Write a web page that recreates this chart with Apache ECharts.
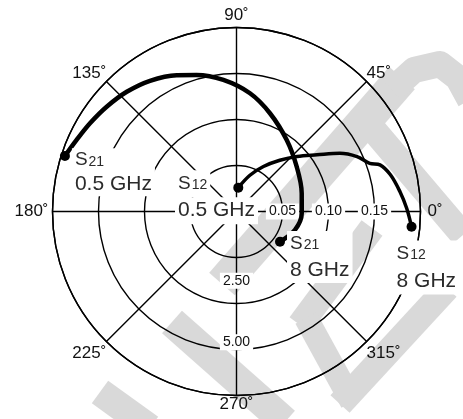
<!DOCTYPE html>
<html><head><meta charset="utf-8">
<script src="https://cdn.jsdelivr.net/npm/echarts@6/dist/echarts.min.js"></script>
<style>html,body{margin:0;padding:0;background:#fff}#c{width:463px;height:419px}</style>
</head><body><div id="c"></div>
<script>
// Angle axis ticks (degrees) and radial scale ticks
const angleTicks = [0, 45, 90, 135, 180, 225, 270, 315];
const s12Scale = { min: 0, max: 0.20, interval: 0.05 };
const s21Scale = { min: 0, max: 7.5, interval: 2.5 };

// S12 trace (magnitude, angle in degrees), 0.5 GHz -> 8 GHz
const s12Mag = [0.026, 0.042, 0.057, 0.073, 0.089, 0.107, 0.129, 0.144, 0.154, 0.164, 0.172, 0.179, 0.185, 0.191];
const s12Ang = [85.7, 69.7, 59.1, 49.8, 42.3, 35.2, 29.4, 24.5, 19.9, 18.0, 13.4, 6.9, 1.1, -5.0];

// S21 trace (magnitude, angle in degrees), 0.5 GHz -> 8 GHz
const s21Mag = [7.35, 7.14, 6.97, 6.80, 6.62, 6.39, 6.07, 5.80, 5.39, 4.85, 4.23, 3.56, 3.06, 2.76, 2.66, 2.50, 2.16];
const s21Ang = [162.1, 155.9, 148.95, 141.1, 132.5, 123.5, 113.7, 106.3, 95.7, 83.5, 71.2, 54.9, 36.7, 15.6, -1.6, -17.5, -34.8];

// Point annotations: [name, subscript, frequency]
const s12StartText = ['S', '12', '0.5 GHz'];
const s12EndText = ['S', '12', '8 GHz'];
const s21StartText = ['S', '21', '0.5 GHz'];
const s21EndText = ['S', '21', '8 GHz'];

const FONT = 'Liberation Sans, Arial, Helvetica, sans-serif';
const TXT = '#2b2b2b';

function richFor(lh) {
  return {
    s: { fontSize: 19, lineHeight: lh, color: TXT, fontFamily: FONT },
    n: { fontSize: 14, lineHeight: lh, color: TXT, fontFamily: FONT, padding: [3, 0, 0, 1] },
    t: { fontSize: 21, lineHeight: lh, color: TXT, fontFamily: FONT }
  };
}
function makeLabel(fmt, lh, offset) {
  return {
    show: true,
    position: 'right',
    distance: 5,
    offset: offset,
    align: 'left',
    verticalAlign: 'middle',
    backgroundColor: '#fff',
    padding: [0, 3, 0, 3],
    formatter: fmt,
    rich: richFor(lh)
  };
}
const two = p => '{s|' + p[0] + '}{n|' + p[1] + '}\n{t|' + p[2] + '}';
const nameOnly = p => '{s|' + p[0] + '}{n|' + p[1] + '}';
const freqOnly = p => '{t|' + p[2] + '}';

function buildData(mag, ang, startLabel, endLabel) {
  const last = mag.length - 1;
  return mag.map((m, i) => {
    const item = { value: [m, ang[i]], symbolSize: (i === 0 || i === last) ? 10 : 0 };
    if (i === 0) item.label = startLabel;
    else if (i === last) item.label = endLabel;
    else item.label = { show: false };
    return item;
  });
}

// Per-angle label padding (distance from the outer circle)
const anglePad = { 0: [0, 0, 0, 7], 90: [0, 0, 4, 0], 180: [0, 4, 0, 0], 225: [3, 0, 0, 0], 315: [3, 0, 0, 0] };
const angleRich = {};
angleTicks.forEach(a => {
  angleRich['a' + a] = { fontSize: 17, color: '#111', fontFamily: FONT, padding: anglePad[a] || [0, 0, 0, 0] };
});

const chart = echarts.init(document.getElementById('c'), null, { renderer: 'canvas' });
const gridLine = { color: '#000', width: 1.4 };
const wm = '#d9d9d9';
function band(points, w) {
  return { type: 'polyline', z: -10, silent: true, shape: { points: points }, style: { stroke: wm, lineWidth: w, fill: null, lineCap: 'butt', lineJoin: 'round' } };
}

chart.setOption({
  animation: false,
  backgroundColor: '#fff',
  textStyle: { fontFamily: FONT },
  graphic: [
    band([[222, 284], [402, 78]], 34),
    band([[392, 90], [414, 70], [440, 64], [458, 78], [470, 100]], 26),
    band([[372, 128], [463, 235]], 26),
    band([[300, 325], [372, 228]], 26),
    band([[306, 318], [352, 402]], 24),
    band([[340, 404], [447, 288]], 26),
    band([[172, 322], [285, 422]], 30),
    band([[100, 392], [150, 428]], 28)
  ],
  polar: [
    { center: [236.5, 211.5], radius: 184 },
    { center: [236.5, 211.5], radius: 184 }
  ],
  angleAxis: [
    {
      polarIndex: 0, type: 'value', min: 0, max: 360, interval: 45, startAngle: 0, clockwise: false, z: 0,
      axisLine: { show: true, lineStyle: gridLine },
      axisTick: { show: false },
      splitLine: { show: true, lineStyle: gridLine },
      axisLabel: {
        show: true, margin: 0, fontSize: 17, color: '#111', fontFamily: FONT,
        customValues: angleTicks,
        formatter: v => '{a' + v + '|' + v + '\u02DA}',
        rich: angleRich
      }
    },
    {
      polarIndex: 1, type: 'value', min: -90, max: 270, startAngle: 270, clockwise: false, z: 0,
      axisLine: { show: false }, axisTick: { show: false }, splitLine: { show: false }, axisLabel: { show: false }
    }
  ],
  radiusAxis: [
    {
      polarIndex: 0, type: 'value', min: s12Scale.min, max: s12Scale.max, interval: s12Scale.interval, z: 1,
      axisLine: { show: false }, axisTick: { show: false },
      splitLine: { show: true, lineStyle: gridLine },
      axisLabel: {
        show: true, margin: 0, align: 'center', verticalAlign: 'middle', fontSize: 14, color: '#111', fontFamily: FONT,
        backgroundColor: '#fff', padding: [1, 3],
        showMinLabel: false, showMaxLabel: false,
        formatter: v => v.toFixed(2)
      }
    },
    {
      polarIndex: 1, type: 'value', min: s21Scale.min, max: s21Scale.max, interval: s21Scale.interval, z: 1,
      axisLine: { show: false }, axisTick: { show: false }, splitLine: { show: false },
      axisLabel: {
        show: true, margin: 0, align: 'center', verticalAlign: 'top', fontSize: 14, color: '#111', fontFamily: FONT,
        backgroundColor: '#fff', padding: [1, 3],
        showMinLabel: false, showMaxLabel: false,
        formatter: v => v.toFixed(2)
      }
    }
  ],
  series: [
    {
      name: 'S12', type: 'line', coordinateSystem: 'polar', polarIndex: 0, z: 3,
      smooth: 0.35, symbol: 'circle', showAllSymbol: true, clip: false,
      lineStyle: { color: '#000', width: 3.5 }, itemStyle: { color: '#000' },
      data: buildData(s12Mag, s12Ang,
        makeLabel(nameOnly(s12StartText), 27, [-73.3, -4]),
        makeLabel(two(s12EndText), 27, [-28, 40.6]))
    },
    {
      name: 'S12 start frequency', type: 'scatter', coordinateSystem: 'polar', polarIndex: 0, z: 4,
      symbolSize: 0, silent: true, itemStyle: { opacity: 1, color: '#000' },
      data: [{ value: [s12Mag[0], s12Ang[0]], label: makeLabel(freqOnly(s12StartText), 27, [-68.3, 23]) }]
    },
    {
      name: 'S21', type: 'line', coordinateSystem: 'polar', polarIndex: 1, z: 3,
      smooth: 0.35, symbol: 'circle', showAllSymbol: true, clip: false,
      lineStyle: { color: '#000', width: 4.5 }, itemStyle: { color: '#000' },
      data: buildData(s21Mag, s21Ang,
        makeLabel(two(s21StartText), 24, [-3, 16.1]),
        makeLabel(two(s21EndText), 26, [-3, 15.2]))
    }
  ]
});
</script></body></html>
